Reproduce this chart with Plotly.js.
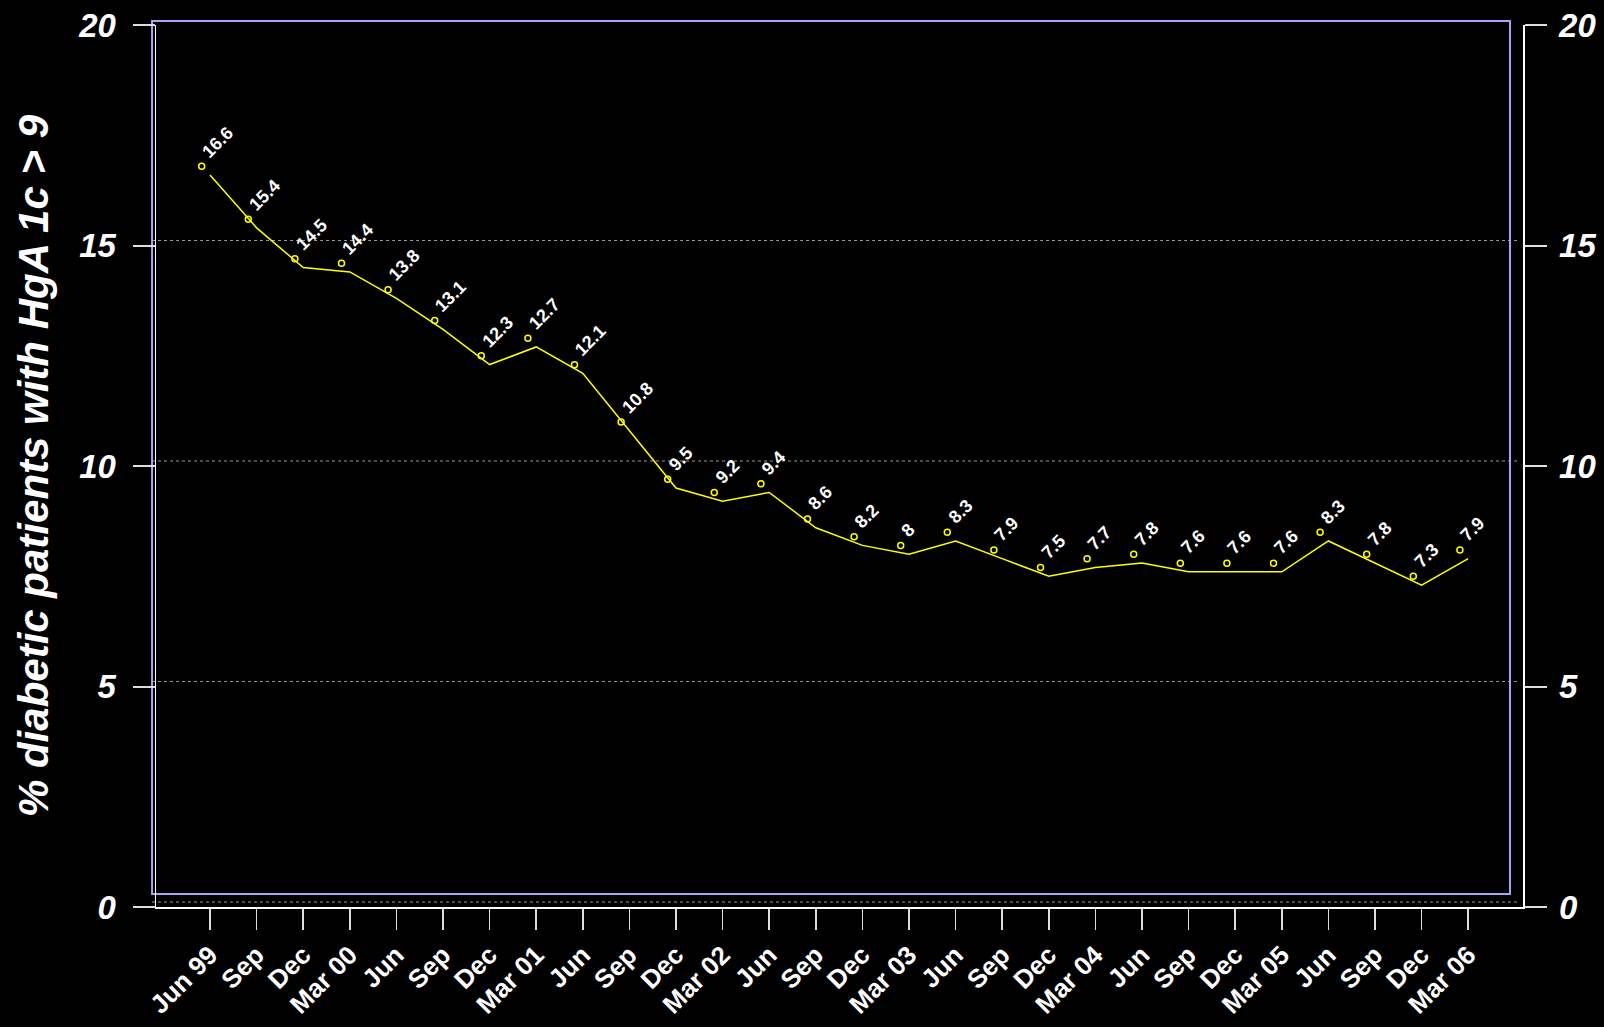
<!DOCTYPE html>
<html>
<head>
<meta charset="utf-8">
<script src="https://cdn.plot.ly/plotly-3.0.1.min.js"></script>
<style>html,body{margin:0;padding:0;background:#000;}#chart{width:1604px;height:1027px;}</style>
</head>
<body>
<div id="chart"></div>
<script>
// ---- data ----
const tickLabels = ["Jun 99","Sep","Dec","Mar 00","Jun","Sep","Dec","Mar 01","Jun","Sep","Dec","Mar 02","Jun","Sep","Dec","Mar 03","Jun","Sep","Dec","Mar 04","Jun","Sep","Dec","Mar 05","Jun","Sep","Dec","Mar 06"];
const values = [16.6,15.4,14.5,14.4,13.8,13.1,12.3,12.7,12.1,10.8,9.5,9.2,9.4,8.6,8.2,8,8.3,7.9,7.5,7.7,7.8,7.6,7.6,7.6,8.3,7.8,7.3,7.9];
const yTicks = [0,5,10,15,20];
const yTitle = "% diabetic patients with HgA 1c > 9";

const idx = tickLabels.map((_, i) => i);

// ---- geometry helpers ----
const xr = [-1.159, 28.176];
const yr = [0, 20];
const pxPerX = 1367 / (xr[1] - xr[0]);
const pxPerY = 882 / (yr[1] - yr[0]);
const mdx = 8.3 / pxPerX;   // marker offset (left)
const mdy = 8.7 / pxPerY;   // marker offset (up)

const FONT = "Liberation Sans, Arial, Helvetica, sans-serif";

const lineTrace = {
  x: idx, y: values, type: 'scatter', mode: 'lines',
  line: {color: '#ffff00', width: 1.5},
  xaxis: 'x', yaxis: 'y', hoverinfo: 'skip', showlegend: false
};
const markerTrace = {
  x: idx, y: values, type: 'scatter', mode: 'markers',
  marker: {symbol: 'circle-open', size: 6, color: '#ffff00', line: {width: 1.5, color: '#ffff00'}},
  xaxis: 'x2', yaxis: 'y2', hoverinfo: 'skip', showlegend: false
};
// right-hand axis carrier (invisible)
const rightTrace = {
  x: [0], y: [0], type: 'scatter', mode: 'markers', marker: {opacity: 0},
  xaxis: 'x', yaxis: 'y3', hoverinfo: 'skip', showlegend: false
};

const annotations = values.map((v, i) => ({
  x: i, y: v, xref: 'x2', yref: 'y2', text: String(v),
  showarrow: false, textangle: -45, xanchor: 'left', yanchor: 'bottom',
  xshift: -6, yshift: 2,
  font: {family: FONT, size: 18, color: '#ffffff', weight: 'bold'}
}));

const shapes = [];
yTicks.forEach(v => {
  shapes.push({
    type: 'line', xref: 'paper', yref: 'y', ysizemode: 'pixel', yanchor: v,
    x0: -0.0029, x1: 0.9956, y0: 5, y1: 5,
    line: {color: '#9a9a9a', width: 1, dash: 'dot'}, layer: 'below'
  });
});
shapes.push({
  type: 'rect', xref: 'paper', yref: 'paper',
  x0: -0.0029, x1: 0.9905, y0: 0.0147, y1: 1.0045,
  line: {color: '#a6a6f2', width: 2}, layer: 'below'
});

const yTickFont = {family: FONT, size: 33, color: '#ffffff', weight: 'bold', style: 'italic'};

const layout = {
  width: 1604, height: 1027,
  paper_bgcolor: '#000000', plot_bgcolor: '#000000',
  margin: {l: 156, r: 81, t: 25, b: 120},
  showlegend: false,
  xaxis: {
    range: xr, tickmode: 'array', tickvals: idx, ticktext: tickLabels,
    tickangle: -45, ticks: 'outside', ticklen: 21, tickwidth: 1.5, tickcolor: '#dddddd',
    tickfont: {family: FONT, size: 26, color: '#ffffff', weight: 'bold'},
    ticklabelstandoff: 0,
    showline: true, linecolor: '#ffffff', linewidth: 1.5,
    showgrid: false, zeroline: false, fixedrange: true
  },
  yaxis: {
    range: yr, tickmode: 'array', tickvals: yTicks,
    ticks: 'outside', ticklen: 22, tickwidth: 2, tickcolor: '#dddddd',
    tickfont: yTickFont, ticklabelstandoff: 10,
    showline: true, linecolor: '#ffffff', linewidth: 1.5,
    showgrid: false, zeroline: false,
    title: {text: yTitle, font: {family: FONT, size: 42, color: '#ffffff', weight: 'bold', style: 'italic'}, standoff: 16}
  },
  xaxis2: {
    overlaying: 'x', range: [xr[0] + mdx, xr[1] + mdx], visible: false, showgrid: false, zeroline: false
  },
  yaxis2: {
    overlaying: 'y', range: [yr[0] - mdy, yr[1] - mdy], visible: false, showgrid: false, zeroline: false
  },
  yaxis3: {
    overlaying: 'y', side: 'right', range: yr, tickmode: 'array', tickvals: yTicks,
    ticks: 'outside', ticklen: 22, tickwidth: 2, tickcolor: '#dddddd',
    tickfont: yTickFont, ticklabelstandoff: 6,
    showline: true, linecolor: '#ffffff', linewidth: 1.5,
    showgrid: false, zeroline: false
  },
  shapes: shapes,
  annotations: annotations
};

Plotly.newPlot('chart', [lineTrace, markerTrace, rightTrace], layout, {displayModeBar: false, staticPlot: true});
</script>
</body>
</html>
